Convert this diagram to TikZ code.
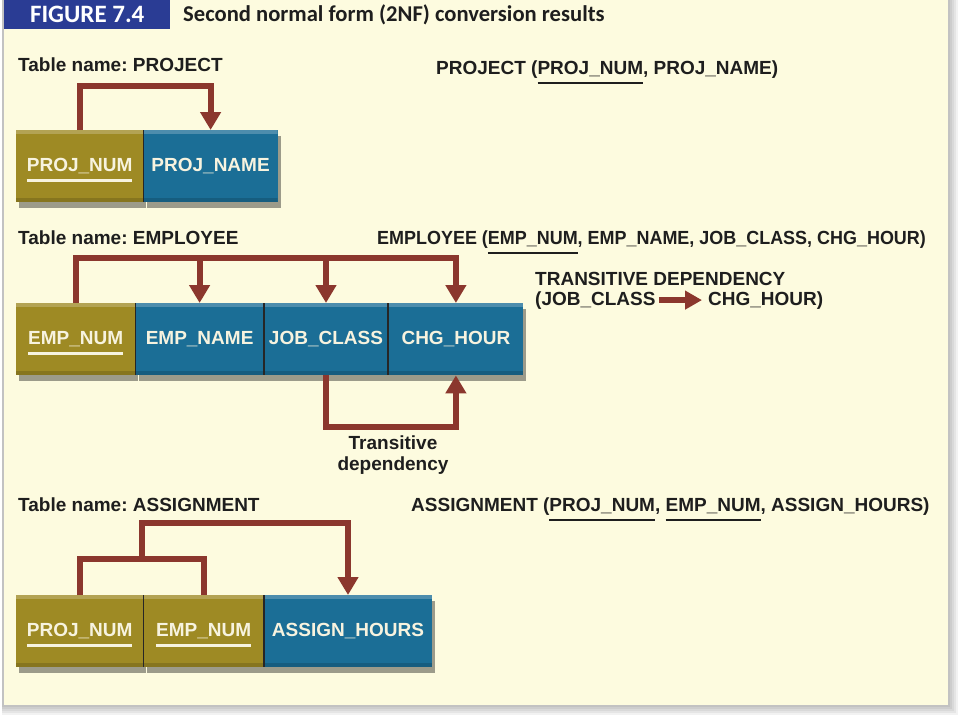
\documentclass[tikz,border=0pt]{standalone}
\usepackage{fontspec}
\setmainfont{Liberation Sans}
\newfontfamily\hdfont{Carlito}
\newfontfamily\condfont{Liberation Sans}[FakeStretch=0.945]
\usetikzlibrary{arrows.meta,calc,shadows}
\frenchspacing

\definecolor{cream}{HTML}{FDFBDF}
\definecolor{hdblue}{HTML}{2A3C94}
\definecolor{olivec}{HTML}{9E8A24}
\definecolor{bluec}{HTML}{1B6E96}
\definecolor{arrowc}{HTML}{8B372D}
\definecolor{boxtext}{HTML}{F7F3DF}
\definecolor{inkc}{HTML}{1E1E1E}

\newsavebox\myulbox
\newcommand\myul[3]{\sbox\myulbox{#3}\rlap{\smash{\rule[-#1]{\wd\myulbox}{#2}}}\usebox\myulbox}
\newcommand\boxul[1]{\myul{10pt}{2.5pt}{#1}}
\newcommand\relul[1]{\myul{10pt}{2pt}{#1}}

\tikzset{
  every node/.style={font=\fontsize{19}{21}\selectfont\bfseries},
  tbl/.style={anchor=north west, minimum height=72pt, inner sep=0pt, text=boxtext,
    drop shadow={shadow xshift=3pt, shadow yshift=-6pt, fill=black, opacity=0.38},
    path picture={
      \fill[white,opacity=0.22] (path picture bounding box.north west) rectangle ([yshift=-4pt]path picture bounding box.north east);
      \fill[black,opacity=0.15] (path picture bounding box.south west) rectangle ([yshift=4pt]path picture bounding box.south east);}},
  keybox/.style={tbl, fill=olivec},
  attrbox/.style={tbl, fill=bluec},
  divider/.style={draw=black!85, line width=1.5pt},
  depline/.style={draw=arrowc, line width=6pt},
  dep/.style={depline, -{Triangle[width=20pt,length=18pt]}},
  smallarrow/.style={draw=arrowc, line width=6pt, -{Triangle[width=18pt,length=17pt]}},
  lbl/.style={anchor=base west, inner sep=0pt, text=inkc},
}

\begin{document}
\begin{tikzpicture}[x=1pt,y=-1pt]
% page and panel
\fill[white] (0,0) rectangle (960,720);
\foreach \d in {2,4,6,8,10}{
  \fill[black,opacity=0.05] (2,0) rectangle (948+\d,705+\d);
}
\fill[cream] (4,0) rectangle (948,705);

% header
\node[fill=hdblue, anchor=north west, minimum width=166pt, minimum height=29pt, inner sep=0pt,
      text=white, font=\hdfont\bfseries\fontsize{25}{25}\selectfont] (fig) at (4,0) {FIGURE 7.4};
\node[anchor=base west, inner sep=0pt, text=inkc, font=\hdfont\bfseries\fontsize{22.6}{23}\selectfont]
      (title) at (183,21) {Second normal form (2NF) conversion results};

% ---------- PROJECT ----------
\node[lbl] (tp) at (18,71) {Table name: PROJECT};
\node[lbl] (rp) at (436,74) {PROJECT (\relul{PROJ\_NUM}, PROJ\_NAME)};
\node[keybox, minimum width=127pt] (ppn) at (16,130) {\boxul{PROJ\_NUM}};
\node[attrbox, minimum width=134pt] (ppname) at (ppn.north east) {PROJ\_NAME};
\draw[divider] (ppn.north east) -- (ppn.south east);
\draw[dep] (ppn.north) -- ++(0,-44) -| (ppname.north);

% ---------- EMPLOYEE ----------
\node[lbl] (te) at (18,244) {Table name: EMPLOYEE};
\node[lbl, font=\condfont\bfseries\fontsize{19}{21}\selectfont] (re) at (377,244)
  {EMPLOYEE (\relul{EMP\_NUM}, EMP\_NAME, JOB\_CLASS, CHG\_HOUR)};
\node[keybox, minimum width=119pt] (een) at (16,303) {\boxul{EMP\_NUM}};
\node[attrbox, minimum width=128pt] (eename) at (een.north east) {EMP\_NAME};
\node[attrbox, minimum width=124pt] (ejc) at (eename.north east) {JOB\_CLASS};
\node[attrbox, minimum width=135pt] (ech) at (ejc.north east) {CHG\_HOUR};
\draw[divider] (een.north east) -- (een.south east);
\draw[divider] (eename.north east) -- (eename.south east);
\draw[divider] (ejc.north east) -- (ejc.south east);
\coordinate (etop) at ($(een.north)+(0,-45)$);
\draw[dep] (een.north) -- (etop) -| (ech.north);
\draw[dep] (etop -| eename.north) -- (eename.north);
\draw[dep] (etop -| ejc.north) -- (ejc.north);
\draw[dep] (ejc.south) -- ++(0,52) -| (ech.south);
\node[align=center, inner sep=0pt, text=inkc] (tdlab) at (393,455) {Transitive\\dependency};

\node[lbl] (td1) at (535,285) {TRANSITIVE DEPENDENCY};
\node[lbl] (td2) at (535,305) {(JOB\_CLASS};
\node[lbl] (td3) at (708,305) {CHG\_HOUR)};
\draw[smallarrow, shorten <=3pt, shorten >=6pt] (td2.east) -- (td3.west);

% ---------- ASSIGNMENT ----------
\node[lbl] (ta) at (18,511) {Table name: ASSIGNMENT};
\node[lbl] (ra) at (411,511) {ASSIGNMENT (\relul{PROJ\_NUM}, \relul{EMP\_NUM}, ASSIGN\_HOURS)};
\node[keybox, minimum width=127pt] (apn) at (16,595) {\boxul{PROJ\_NUM}};
\node[keybox, minimum width=120pt] (aen) at (apn.north east) {\boxul{EMP\_NUM}};
\node[attrbox, minimum width=168pt] (aah) at (aen.north east) {ASSIGN\_HOURS};
\draw[divider] (apn.north east) -- (apn.south east);
\draw[divider] (aen.north east) -- (aen.south east);
\draw[depline] (apn.north) -- ++(0,-36) -| (aen.north);
\coordinate (amid) at ($(apn.north)!0.5!(aen.north)+(0,-36)$);
\draw[dep] (amid) -- ++(0,-36) -| (aah.north);
\end{tikzpicture}
\end{document}
